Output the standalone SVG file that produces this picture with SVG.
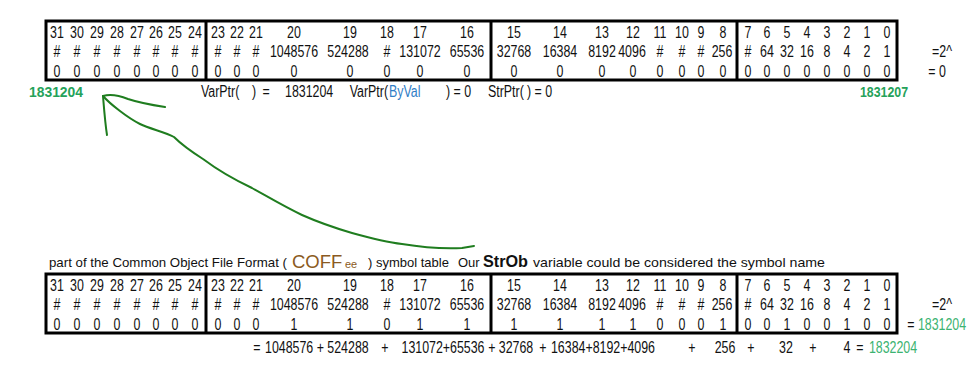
<svg xmlns="http://www.w3.org/2000/svg" width="980" height="368" viewBox="0 0 980 368">
<style>
.t{font-family:"Liberation Sans",Arial,sans-serif;font-size:16px;fill:#111;text-anchor:middle;transform-box:fill-box;transform-origin:center;transform:scaleX(0.775)}
.s{text-anchor:start;transform-origin:left center}
.e{text-anchor:end;transform-origin:right center}
.g{fill:#3cb371}
.gb{font-family:"Liberation Sans",Arial,sans-serif;font-weight:bold;font-size:14px;fill:#25a25a}
.blue{fill:#2f7dc6}
.box{fill:none;stroke:#000;stroke-width:3}
.div{stroke:#000;stroke-width:3}
.ink{fill:none;stroke:#1f7d1f;stroke-width:2;stroke-linecap:round;stroke-linejoin:round}
.p{font-family:"Liberation Sans",Arial,sans-serif;font-size:13px;fill:#111}
.brown{fill:#8b5a22}
</style>
<rect width="980" height="368" fill="#fff"/>

<g id="top-table">
<rect class="box" x="46" y="21" width="851" height="59"/>
<line class="div" x1="206" y1="21" x2="206" y2="80"/>
<line class="div" x1="491" y1="21" x2="491" y2="80"/>
<line class="div" x1="737" y1="21" x2="737" y2="80"/>
<g>
<text class="t" x="57" y="38">31</text><text class="t" x="77" y="38">30</text><text class="t" x="97" y="38">29</text><text class="t" x="117" y="38">28</text><text class="t" x="137" y="38">27</text><text class="t" x="156" y="38">26</text><text class="t" x="175" y="38">25</text><text class="t" x="195" y="38">24</text><text class="t" x="218" y="38">23</text><text class="t" x="237" y="38">22</text><text class="t" x="256" y="38">21</text><text class="t" x="294" y="38">20</text><text class="t" x="350" y="38">19</text><text class="t" x="387" y="38">18</text><text class="t" x="420" y="38">17</text><text class="t" x="467" y="38">16</text><text class="t" x="514" y="38">15</text><text class="t" x="560" y="38">14</text><text class="t" x="602" y="38">13</text><text class="t" x="633" y="38">12</text><text class="t" x="660" y="38">11</text><text class="t" x="682" y="38">10</text><text class="t" x="701" y="38">9</text><text class="t" x="723" y="38">8</text><text class="t" x="748" y="38">7</text><text class="t" x="767" y="38">6</text><text class="t" x="787" y="38">5</text><text class="t" x="807" y="38">4</text><text class="t" x="827" y="38">3</text><text class="t" x="847" y="38">2</text><text class="t" x="867" y="38">1</text><text class="t" x="887" y="38">0</text>
</g>
<g>
<text class="t" x="57" y="57">#</text><text class="t" x="77" y="57">#</text><text class="t" x="97" y="57">#</text><text class="t" x="117" y="57">#</text><text class="t" x="137" y="57">#</text><text class="t" x="156" y="57">#</text><text class="t" x="175" y="57">#</text><text class="t" x="195" y="57">#</text><text class="t" x="218" y="57">#</text><text class="t" x="237" y="57">#</text><text class="t" x="256" y="57">#</text><text class="t" x="294" y="57">1048576</text><text class="t" x="348" y="57">524288</text><text class="t" x="387" y="57">#</text><text class="t" x="420" y="57">131072</text><text class="t" x="467" y="57">65536</text><text class="t" x="514" y="57">32768</text><text class="t" x="560" y="57">16384</text><text class="t" x="602" y="57">8192</text><text class="t" x="632" y="57">4096</text><text class="t" x="660" y="57">#</text><text class="t" x="682" y="57">#</text><text class="t" x="701" y="57">#</text><text class="t" x="722" y="57">256</text><text class="t" x="748" y="57">#</text><text class="t" x="767" y="57">64</text><text class="t" x="787" y="57">32</text><text class="t" x="807" y="57">16</text><text class="t" x="827" y="57">8</text><text class="t" x="847" y="57">4</text><text class="t" x="867" y="57">2</text><text class="t" x="887" y="57">1</text>
</g>
<g>
<text class="t" x="57" y="77">0</text><text class="t" x="77" y="77">0</text><text class="t" x="97" y="77">0</text><text class="t" x="117" y="77">0</text><text class="t" x="137" y="77">0</text><text class="t" x="156" y="77">0</text><text class="t" x="175" y="77">0</text><text class="t" x="195" y="77">0</text><text class="t" x="218" y="77">0</text><text class="t" x="237" y="77">0</text><text class="t" x="256" y="77">0</text><text class="t" x="294" y="77">0</text><text class="t" x="350" y="77">0</text><text class="t" x="387" y="77">0</text><text class="t" x="420" y="77">0</text><text class="t" x="467" y="77">0</text><text class="t" x="514" y="77">0</text><text class="t" x="560" y="77">0</text><text class="t" x="602" y="77">0</text><text class="t" x="633" y="77">0</text><text class="t" x="660" y="77">0</text><text class="t" x="682" y="77">0</text><text class="t" x="701" y="77">0</text><text class="t" x="723" y="77">0</text><text class="t" x="748" y="77">0</text><text class="t" x="767" y="77">0</text><text class="t" x="787" y="77">0</text><text class="t" x="807" y="77">0</text><text class="t" x="827" y="77">0</text><text class="t" x="847" y="77">0</text><text class="t" x="867" y="77">0</text><text class="t" x="887" y="77">0</text>
</g>
<text class="t" x="942" y="57">=2^</text>
<text class="t" x="937" y="77">= 0</text>
</g>

<g id="pointer-labels">
<text class="gb" x="29" y="97" textLength="54" lengthAdjust="spacingAndGlyphs">1831204</text>
<text class="gb" x="860" y="97" textLength="48" lengthAdjust="spacingAndGlyphs">1831207</text>
<text class="t s" x="201" y="97">VarPtr(</text>
<text class="t s" x="252" y="97">)</text>
<text class="t" x="266" y="97">=</text>
<text class="t s" x="285" y="97">1831204</text>
<text class="t e" x="388" y="97">VarPtr(</text>
<text class="t s blue" x="389" y="97">ByVal</text>
<text class="t s" x="446" y="97">) = 0</text>
<text class="t s" x="488" y="97">StrPtr(</text>
<text class="t s" x="527" y="97">) = 0</text>
</g>

<g id="connectors">
<path class="ink" d="M103,96 C110,104 128,118 140,124 C150,129 165,132 174,137 C182,145 192,152 203,159 C215,168 235,180 252,188 C270,198 285,207 302,215 C320,223 335,228 352,233 C370,238 385,242 402,244 C420,247 440,249 462,248 L474,246"/>
<path class="ink" d="M103,96 C110,94 118,95 128,99 C140,103 152,105 165,107"/>
<path class="ink" d="M103,96 C104,108 105,122 107,135"/>
</g>

<g id="caption">
<text class="p" x="49" y="267" textLength="238" lengthAdjust="spacingAndGlyphs">part of the Common Object File Format (</text>
<text class="p brown" x="292" y="268" style="font-size:18.5px">COFF</text>
<text class="p brown" x="345" y="268" style="font-size:11px">ee</text>
<text class="p" x="368" y="267">) symbol table</text>
<text class="p" x="458" y="267">Our</text>
<text class="p" x="483" y="267" style="font-size:17px;font-weight:bold" textLength="45" lengthAdjust="spacingAndGlyphs">StrOb</text>
<text class="p" x="533" y="267" textLength="292" lengthAdjust="spacingAndGlyphs">variable could be considered the symbol name</text>
</g>

<g id="bottom-table">
<rect class="box" x="46" y="274" width="851" height="59"/>
<line class="div" x1="206" y1="274" x2="206" y2="333"/>
<line class="div" x1="491" y1="274" x2="491" y2="333"/>
<line class="div" x1="737" y1="274" x2="737" y2="333"/>
<g>
<text class="t" x="57" y="291">31</text><text class="t" x="77" y="291">30</text><text class="t" x="97" y="291">29</text><text class="t" x="117" y="291">28</text><text class="t" x="137" y="291">27</text><text class="t" x="156" y="291">26</text><text class="t" x="175" y="291">25</text><text class="t" x="195" y="291">24</text><text class="t" x="218" y="291">23</text><text class="t" x="237" y="291">22</text><text class="t" x="256" y="291">21</text><text class="t" x="294" y="291">20</text><text class="t" x="350" y="291">19</text><text class="t" x="387" y="291">18</text><text class="t" x="420" y="291">17</text><text class="t" x="467" y="291">16</text><text class="t" x="514" y="291">15</text><text class="t" x="560" y="291">14</text><text class="t" x="602" y="291">13</text><text class="t" x="633" y="291">12</text><text class="t" x="660" y="291">11</text><text class="t" x="682" y="291">10</text><text class="t" x="701" y="291">9</text><text class="t" x="723" y="291">8</text><text class="t" x="748" y="291">7</text><text class="t" x="767" y="291">6</text><text class="t" x="787" y="291">5</text><text class="t" x="807" y="291">4</text><text class="t" x="827" y="291">3</text><text class="t" x="847" y="291">2</text><text class="t" x="867" y="291">1</text><text class="t" x="887" y="291">0</text>
</g>
<g>
<text class="t" x="57" y="310">#</text><text class="t" x="77" y="310">#</text><text class="t" x="97" y="310">#</text><text class="t" x="117" y="310">#</text><text class="t" x="137" y="310">#</text><text class="t" x="156" y="310">#</text><text class="t" x="175" y="310">#</text><text class="t" x="195" y="310">#</text><text class="t" x="218" y="310">#</text><text class="t" x="237" y="310">#</text><text class="t" x="256" y="310">#</text><text class="t" x="294" y="310">1048576</text><text class="t" x="348" y="310">524288</text><text class="t" x="387" y="310">#</text><text class="t" x="420" y="310">131072</text><text class="t" x="467" y="310">65536</text><text class="t" x="514" y="310">32768</text><text class="t" x="560" y="310">16384</text><text class="t" x="602" y="310">8192</text><text class="t" x="632" y="310">4096</text><text class="t" x="660" y="310">#</text><text class="t" x="682" y="310">#</text><text class="t" x="701" y="310">#</text><text class="t" x="722" y="310">256</text><text class="t" x="748" y="310">#</text><text class="t" x="767" y="310">64</text><text class="t" x="787" y="310">32</text><text class="t" x="807" y="310">16</text><text class="t" x="827" y="310">8</text><text class="t" x="847" y="310">4</text><text class="t" x="867" y="310">2</text><text class="t" x="887" y="310">1</text>
</g>
<g>
<text class="t" x="57" y="330">0</text><text class="t" x="77" y="330">0</text><text class="t" x="97" y="330">0</text><text class="t" x="117" y="330">0</text><text class="t" x="137" y="330">0</text><text class="t" x="156" y="330">0</text><text class="t" x="175" y="330">0</text><text class="t" x="195" y="330">0</text><text class="t" x="218" y="330">0</text><text class="t" x="237" y="330">0</text><text class="t" x="256" y="330">0</text><text class="t" x="294" y="330">1</text><text class="t" x="350" y="330">1</text><text class="t" x="387" y="330">0</text><text class="t" x="420" y="330">1</text><text class="t" x="467" y="330">1</text><text class="t" x="514" y="330">1</text><text class="t" x="560" y="330">1</text><text class="t" x="602" y="330">1</text><text class="t" x="633" y="330">1</text><text class="t" x="660" y="330">0</text><text class="t" x="682" y="330">0</text><text class="t" x="701" y="330">0</text><text class="t" x="723" y="330">1</text><text class="t" x="748" y="330">0</text><text class="t" x="767" y="330">0</text><text class="t" x="787" y="330">1</text><text class="t" x="807" y="330">0</text><text class="t" x="827" y="330">0</text><text class="t" x="847" y="330">1</text><text class="t" x="867" y="330">0</text><text class="t" x="887" y="330">0</text>
</g>
<text class="t" x="942" y="310">=2^</text>
<text class="t" x="911" y="330">=</text>
<text class="t g" x="942" y="330">1831204</text>
</g>

<g id="sum">
<text class="t" x="257" y="353">=</text>
<text class="t s" x="265" y="353">1048576 + 524288</text>
<text class="t" x="385" y="353">+</text>
<text class="t" x="443" y="353">131072+65536</text>
<text class="t" x="492" y="353">+</text>
<text class="t" x="516" y="353">32768</text>
<text class="t" x="543" y="353">+</text>
<text class="t" x="603" y="353">16384+8192+4096</text>
<text class="t" x="692" y="353">+</text>
<text class="t" x="725" y="353">256</text>
<text class="t" x="751" y="353">+</text>
<text class="t" x="786" y="353">32</text>
<text class="t" x="813" y="353">+</text>
<text class="t" x="847" y="353">4</text>
<text class="t" x="860" y="353">=</text>
<text class="t g" x="893" y="353">1832204</text>
</g>
</svg>
